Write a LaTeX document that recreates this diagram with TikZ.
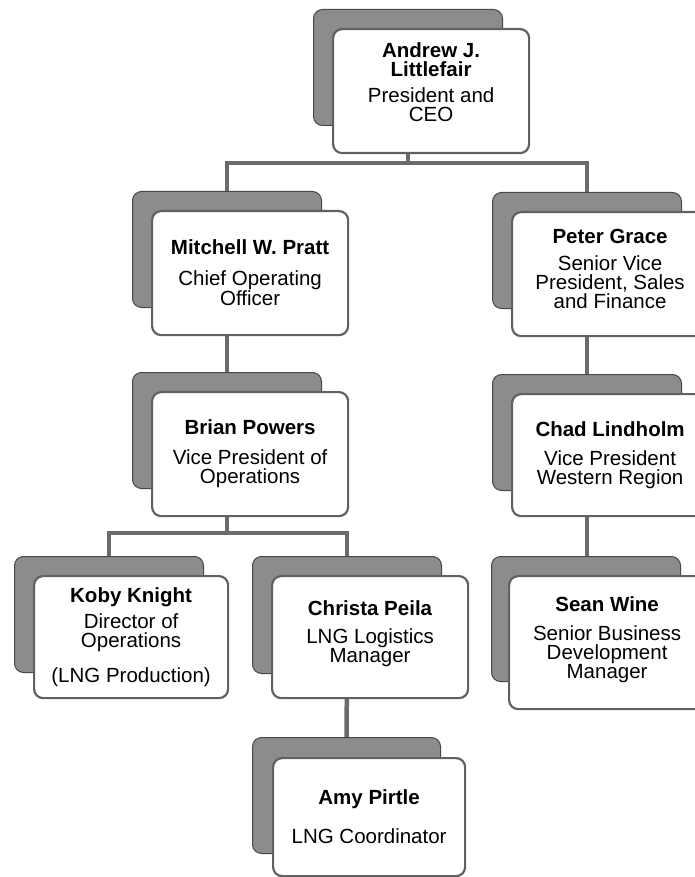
\documentclass[tikz,border=0pt]{standalone}
\usepackage{fontspec}
\setmainfont{Liberation Sans}
\usetikzlibrary{backgrounds}

\tikzset{
	card/.style={draw=black!62, line width=2.2pt, fill=white, rounded corners=9pt,
		anchor=north west, minimum width=196pt, minimum height=124pt, inner sep=2pt,
		align=center, font=\fontsize{20.5}{19}\selectfont},
	backcard/.style={draw=black!72, line width=1pt, fill=black!45, rounded corners=9pt,
		anchor=north west, minimum width=189pt, minimum height=116pt},
	link/.style={draw=black!58, line width=4.5pt}
}

\begin{document}
\begin{tikzpicture}[x=1pt,y=-1pt]
		\useasboundingbox (0,0) rectangle (695,877);

		\node[backcard] (ceo-bg) at (313,9) {};
		\node[card] (ceo) at (332,28) {\textbf{Andrew J.}\\\textbf{Littlefair}\\[7pt]President and\\CEO\\\mbox{}};

		\node[backcard] (coo-bg) at (132,191) {};
		\node[card] (coo) at (151,210) {\textbf{Mitchell W. Pratt}\\[12pt]Chief Operating\\Officer};

		\node[backcard] (svp-bg) at (492,192) {};
		\node[card] (svp) at (511,211) {\textbf{Peter Grace}\\[8pt]Senior Vice\\President, Sales\\and Finance\\[-9pt]\mbox{}};

		\node[backcard] (vpo-bg) at (132,372) {};
		\node[card] (vpo) at (151,391) {\textbf{Brian Powers}\\[11pt]Vice President of\\Operations};

		\node[backcard] (vpw-bg) at (492,374) {};
		\node[card, minimum height=122pt] (vpw) at (511,393) {\textbf{Chad Lindholm}\\[10pt]Vice President\\Western Region};

		\node[backcard] (dir-bg) at (14,556) {};
		\node[card, minimum width=194pt, minimum height=122pt] (dir) at (33,575) {\textbf{Koby Knight}\\[6pt]Director of\\Operations\\[14pt](LNG Production)};

		\node[backcard, minimum height=117pt] (log-bg) at (252,556) {};
		\node[card, minimum height=122pt] (log) at (271,575) {\textbf{Christa Peila}\\[9pt]LNG Logistics\\Manager\\[-7pt]\mbox{}};

		\node[backcard, minimum height=125pt] (bdm-bg) at (491,556) {};
		\node[card, minimum height=133pt] (bdm) at (508,575) {\textbf{Sean Wine}\\[10pt]Senior Business\\Development\\Manager\\[-9pt]\mbox{}};

		\node[backcard, minimum width=188pt] (crd-bg) at (252,737) {};
		\node[card, minimum width=192pt, minimum height=118pt] (crd) at (272,757) {\textbf{Amy Pirtle}\\[19pt]LNG Coordinator};

		\begin{scope}[on background layer]
		\coordinate (bus-top) at (ceo-bg.south |- 0,163);
		\coordinate (bus-ops) at (vpo-bg.south |- 0,533);
		\draw[link] (ceo-bg.south) -- (bus-top);
		\draw[link] (coo-bg.north) |- (bus-top) -| (svp-bg.north);
		\draw[link] (coo-bg.south) -- (vpo-bg.north);
		\draw[link] (svp-bg.south) -- (vpw-bg.north);
		\draw[link] (vpo-bg.south) -- (bus-ops);
		\draw[link] (dir-bg.north) |- (bus-ops) -| (log-bg.north);
		\draw[link] (vpw-bg.south) -- (vpw-bg.south |- bdm-bg.north);
		\draw[link] (log-bg.south) -- (crd-bg.north);
		\end{scope}
\end{tikzpicture}
\end{document}
